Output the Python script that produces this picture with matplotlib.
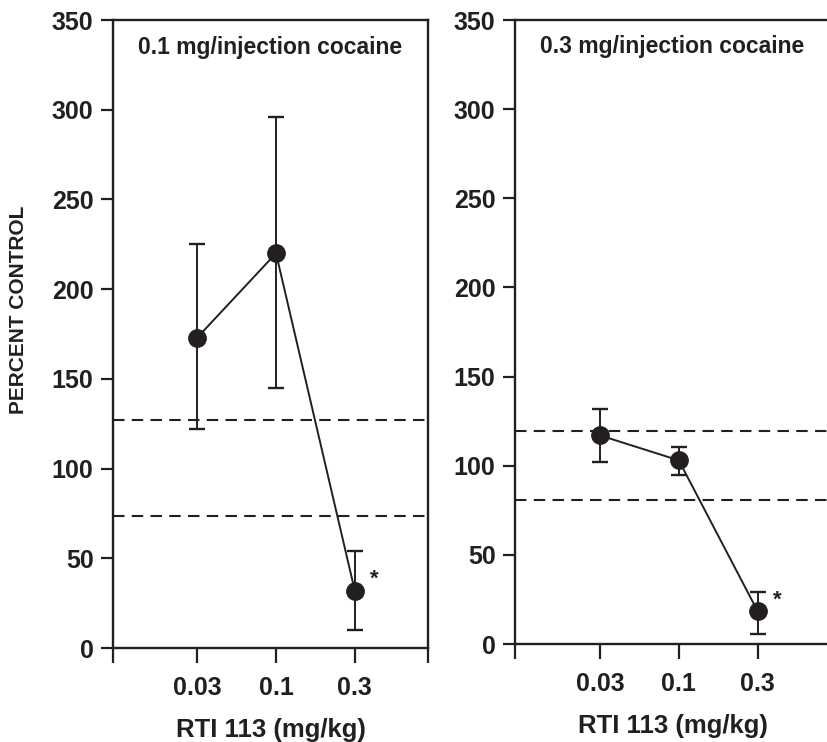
import matplotlib.pyplot as plt
import numpy as np

plt.rcParams["font.family"] = ["Liberation Sans", "DejaVu Sans"]
plt.rcParams["font.weight"] = "bold"

INK = "#231f20"

doses = ["0.03", "0.1", "0.3"]

# 0.1 mg/injection cocaine
low_mean = [173, 220, 32]
low_upper = [225, 296, 54]
low_lower = [122, 145, 10]
low_band = [73.5, 127]

# 0.3 mg/injection cocaine
high_mean = [117, 103, 18.5]
high_upper = [132, 110.5, 29]
high_lower = [102, 95, 5.5]
high_band = [81, 119.5]

panel_titles = ["0.1 mg/injection cocaine", "0.3 mg/injection cocaine"]
y_ticks = [0, 50, 100, 150, 200, 250, 300, 350]


def draw_panel(ax, means, upper, lower, band, title, xlim, show_right):
    x = np.arange(1, len(doses) + 1)
    means = np.array(means)
    yerr = [means - np.array(lower), np.array(upper) - means]

    for b in band:
        ax.axhline(b, color=INK, lw=1.5, linestyle=(0, (5.5, 3.5)), zorder=1)

    ax.errorbar(x, means, yerr=yerr, fmt="o-", color=INK, ms=12.5, lw=1.4,
                elinewidth=1.4, capsize=6, capthick=1.7, zorder=3)

    ax.annotate("*", xy=(x[-1], means[-1]), xytext=(11, 8),
                textcoords="offset points", fontsize=16, color=INK,
                ha="left", va="center")

    ax.set_xlim(*xlim)
    ax.set_ylim(0, 350)
    ax.set_xticks([xlim[0]] + list(x) + [xlim[1]])
    ax.set_xticklabels([""] + doses + [""])
    ax.set_yticks(y_ticks)
    ax.tick_params(axis="y", direction="out", length=9, width=1.6,
                   labelsize=18, colors=INK, pad=5)
    ax.tick_params(axis="x", direction="out", length=11, width=1.6,
                   labelsize=18, colors=INK, pad=9)
    for s in ax.spines.values():
        s.set_linewidth(1.7)
        s.set_color(INK)
    ax.spines["right"].set_visible(show_right)

    ax.text(0.5, 0.957, title, transform=ax.transAxes, ha="center",
            va="center", fontsize=16.5, fontweight="bold", color=INK)
    ax.set_xlabel("RTI 113 (mg/kg)", fontsize=18.5, fontweight="bold",
                  color=INK, labelpad=13)


fig = plt.figure(figsize=(8.28, 7.42), dpi=100)
W, H = 828, 742

ax1 = fig.add_axes([113 / W, 1 - 648 / H, 315 / W, 628 / H])
ax2 = fig.add_axes([515 / W, 1 - 644 / H, 315 / W, 624 / H])

draw_panel(ax1, low_mean, low_upper, low_lower, low_band, panel_titles[0],
           (-0.07, 3.93), True)
draw_panel(ax2, high_mean, high_upper, high_lower, high_band, panel_titles[1],
           (-0.08, 3.92), False)

fig.text(19 / W, 1 - 310 / H, "PERCENT CONTROL", rotation=90, ha="center",
         va="center", fontsize=15, fontweight="bold", color=INK)

fig.savefig("out.png", dpi=100)
